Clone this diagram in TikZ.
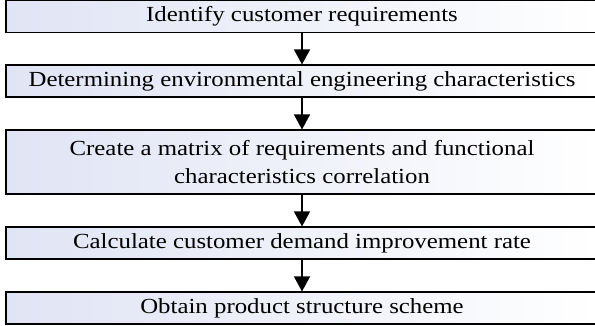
\documentclass[tikz,border=0pt]{standalone}
\usepackage{fontspec}
\setmainfont[FakeStretch=1.155]{Liberation Serif}
\usetikzlibrary{arrows.meta}
\definecolor{lav}{RGB}{224,228,244}
\tikzset{
  stepbox/.style={draw=black, line width=1.1bp, left color=lav, right color=white,
    minimum width=592bp, minimum height=32bp, inner sep=0pt, align=center,
    font=\fontsize{21.5bp}{28bp}\selectfont},
  flowarrow/.style={line width=1.4bp, -{Triangle[length=15bp,width=16bp]}}
}
\begin{document}
\begin{tikzpicture}[x=1bp,y=-1bp]
\useasboundingbox (0,0) rectangle (595,325);
\node[stepbox] (b1) at (302,16.5) {Identify customer requirements};
\node[stepbox] (b2) at (302,81) {Determining environmental engineering characteristics};
\node[stepbox, minimum height=64bp] (b3) at (302,162) {Create a matrix of requirements and functional\\characteristics correlation};
\node[stepbox] (b4) at (302,243) {Calculate customer demand improvement rate};
\node[stepbox] (b5) at (302,308) {Obtain product structure scheme};
\draw[flowarrow] (b1.south) -- (b2.north);
\draw[flowarrow] (b2.south) -- (b3.north);
\draw[flowarrow] (b3.south) -- (b4.north);
\draw[flowarrow] (b4.south) -- (b5.north);
\end{tikzpicture}
\end{document}
